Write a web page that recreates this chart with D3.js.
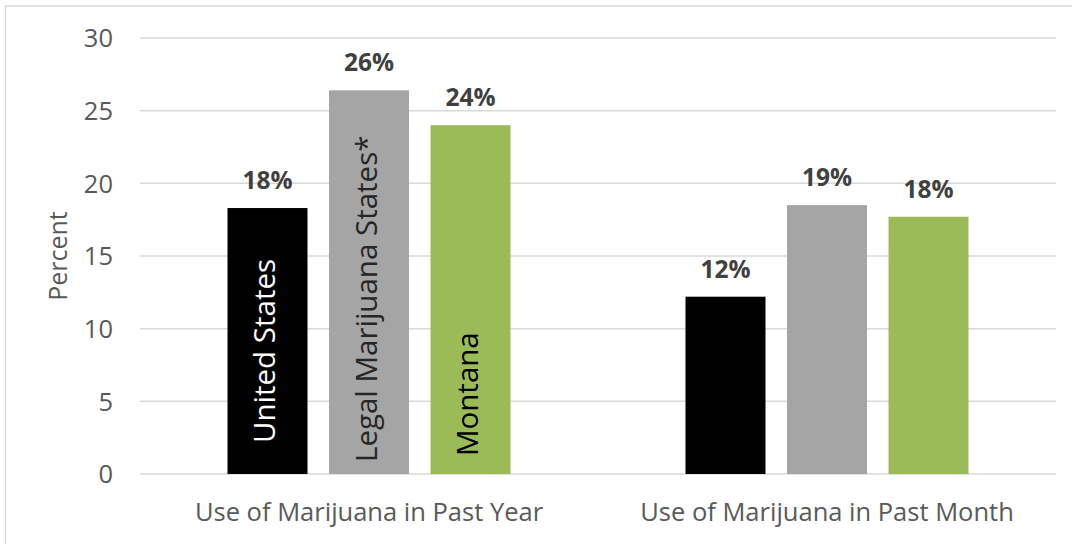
<!DOCTYPE html>
<html>
<head>
<meta charset="utf-8">
<script src="https://cdn.jsdelivr.net/npm/d3@7"></script>
<style>
  body { margin: 0; background: #fff; overflow: hidden; }
  svg { display: block; font-family: 'Open Sans', sans-serif; }
</style>
</head>
<body>
<div id="chart"></div>
<script>
const categories = ['Use of Marijuana in Past Year', 'Use of Marijuana in Past Month'];
const seriesNames = ['United States', 'Legal Marijuana States*', 'Montana'];
const seriesColors = ['#000000', '#a5a5a5', '#9bbb59'];
const usValues = [18.3, 12.2];
const legalValues = [26.4, 18.5];
const montanaValues = [24.0, 17.7];
const usLabels = ['18%', '12%'];
const legalLabels = ['26%', '19%'];
const montanaLabels = ['24%', '18%'];
const yTicks = [0, 5, 10, 15, 20, 25, 30];

const seriesValues = [usValues, legalValues, montanaValues];
const valueLabels = [usLabels, legalLabels, montanaLabels];

const width = 1072;
const height = 544;
const plot = { left: 140, right: 1056, top: 38, bottom: 474 };

const svg = d3.select('#chart')
  .append('svg')
  .attr('width', width)
  .attr('height', height);

// outer chart border (right and bottom edges fall outside the picture)
svg.append('rect')
  .attr('x', 5.5)
  .attr('y', 6)
  .attr('width', width + 10)
  .attr('height', height + 10)
  .attr('fill', 'none')
  .attr('stroke', '#d9d9d9')
  .attr('stroke-width', 1.5);

const y = d3.scaleLinear().domain([0, 30]).range([plot.bottom, plot.top]);

const x0 = d3.scaleBand()
  .domain(categories)
  .range([plot.left, plot.right]);

const x1 = d3.scaleBand()
  .domain(seriesNames)
  .range([0, x0.bandwidth()])
  .paddingInner(0.212)
  .paddingOuter(0.862);

// gridlines
svg.append('g')
  .attr('class', 'grid')
  .selectAll('line')
  .data(yTicks)
  .join('line')
  .attr('x1', plot.left)
  .attr('x2', plot.right)
  .attr('y1', (d) => y(d))
  .attr('y2', (d) => y(d))
  .attr('stroke', '#d9d9d9')
  .attr('stroke-width', 1.5);

// y tick labels
svg.append('g')
  .attr('class', 'y-labels')
  .selectAll('text')
  .data(yTicks)
  .join('text')
  .attr('x', 113)
  .attr('y', (d) => y(d))
  .attr('dy', '0.36em')
  .attr('text-anchor', 'end')
  .attr('fill', '#595959')
  .style('font-size', '25.5px')
  .text((d) => d);

// y axis title
svg.append('text')
  .attr('transform', `translate(67, ${(plot.top + plot.bottom) / 2}) rotate(-90)`)
  .attr('text-anchor', 'middle')
  .attr('fill', '#595959')
  .style('font-size', '25px')
  .text('Percent');

// category labels
svg.append('g')
  .selectAll('text')
  .data(categories)
  .join('text')
  .attr('x', (d) => x0(d) + x0.bandwidth() / 2)
  .attr('y', 521)
  .attr('text-anchor', 'middle')
  .attr('fill', '#595959')
  .style('font-size', '25.5px')
  .text((d) => d);

const barData = [];
seriesNames.forEach((s, si) => {
  categories.forEach((c, ci) => {
    barData.push({ series: s, si, category: c, value: seriesValues[si][ci], label: valueLabels[si][ci] });
  });
});

svg.append('g')
  .attr('class', 'bars')
  .selectAll('rect')
  .data(barData)
  .join('rect')
  .attr('x', (d) => x0(d.category) + x1(d.series))
  .attr('y', (d) => y(d.value))
  .attr('width', x1.bandwidth())
  .attr('height', (d) => y(0) - y(d.value))
  .attr('fill', (d) => seriesColors[d.si]);

svg.append('g')
  .attr('class', 'value-labels')
  .selectAll('text')
  .data(barData)
  .join('text')
  .attr('x', (d) => x0(d.category) + x1(d.series) + x1.bandwidth() / 2)
  .attr('y', (d) => y(d.value) - 19)
  .attr('text-anchor', 'middle')
  .attr('fill', '#404040')
  .style('font-size', '24.5px')
  .style('font-weight', 'bold')
  .text((d) => d.label);

// series names written inside the first group's bars
const nameInset = [31, 12, 18];
const nameColors = ['#ffffff', '#262626', '#000000'];
svg.append('g')
  .attr('class', 'series-names')
  .selectAll('text')
  .data(seriesNames)
  .join('text')
  .attr('transform', (d, i) => {
    const cx = x0(categories[0]) + x1(d) + x1.bandwidth() / 2;
    return `translate(${cx - 3}, ${y(0) - nameInset[i]}) rotate(-90)`;
  })
  .attr('dy', '0.36em')
  .attr('text-anchor', 'start')
  .attr('fill', (d, i) => nameColors[i])
  .style('font-size', '29.5px')
  .text((d) => d);
</script>
</body>
</html>
